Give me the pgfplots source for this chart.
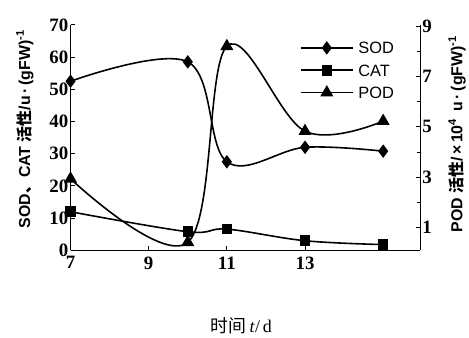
\documentclass[border=0pt]{standalone}
\usepackage{fontspec}
\setmainfont{Liberation Serif}
\newfontfamily\sans{Liberation Sans}
\newfontfamily\cjk{Noto Sans CJK SC}
\usepackage{pgfplots}
\pgfplotsset{compat=1.18}
\begin{document}
\begin{tikzpicture}
\pgfplotsset{
 every axis/.append style={
  scale only axis, width=352pt, height=227pt, xmin=7, xmax=15.95,
  tick align=inside, major tick length=4pt, minor tick length=3pt,
  every tick/.style={black, line width=1pt},
  axis line style={line width=1.4pt},
  /pgf/number format/assume math mode=true,
  ticklabel style={font=\fontsize{19}{19}\selectfont\bfseries, inner sep=1pt},
 },
}
\begin{axis}[
  axis x line*=bottom, axis y line*=left,
  ymin=0, ymax=70, ytick={0,10,...,70},
  xtick={7,9,11,13},
  xticklabel style={yshift=-5pt},
  yticklabel style={xshift=-1pt},
]
\addplot[black, line width=1.6pt, smooth, tension=0.6, mark=diamond*, mark size=5.5pt] coordinates {(7,52.5) (10,58.5) (11,27.5) (13,32) (15,30.8)};
\addplot[black, line width=1.6pt, smooth, tension=0.6, mark=square*, mark size=4.5pt] coordinates {(7,12) (10,5.8) (11,6.6) (13,3) (15,1.8)};
\end{axis}
\begin{axis}[
  axis x line=none, axis y line*=right,
  ymin=0.1, ymax=9.05, ytick={1,3,5,7,9}, minor ytick={2,4,6,8},
  yticklabel style={xshift=1pt},
  legend style={at={(rel axis cs:0.656,0.925)}, anchor=north west, draw=none, fill=none,
    font=\sans\fontsize{16.5}{16.5}\selectfont, inner sep=0pt, row sep=10.5pt, column sep=5pt,
    nodes={inner sep=0pt, text height=12pt, text depth=0pt}},
  legend cell align=left,
  legend image code/.code={\draw[mark repeat=2,mark phase=2,#1] plot coordinates {(0pt,0pt) (26pt,0pt) (52pt,0pt)};},
]
\addlegendimage{black, line width=1.6pt, mark=diamond*, mark size=5.5pt}
\addlegendentry{SOD}
\addlegendimage{black, line width=1.6pt, mark=square*, mark size=4.5pt}
\addlegendentry{CAT}
\addplot[black, line width=1.6pt, smooth, tension=0.6, mark=triangle*, mark size=6pt] coordinates {(7,2.94) (10,0.42) (11,8.2) (13,4.83) (15,5.23)};
\addlegendentry{POD}
\end{axis}
\node[rotate=90, font=\sans\bfseries\fontsize{16}{16}\selectfont] at (-46pt,122pt) {SOD{\cjk\bfseries 、}CAT {\cjk\bfseries 活性}/u\,·\,(gFW)\textsuperscript{-1}};
\node[rotate=90, font=\sans\bfseries\fontsize{16}{16}\selectfont] at (389pt,117pt) {POD {\cjk\bfseries 活性}/\,×\,10\textsuperscript{4}\, u\,·\,(gFW)\textsuperscript{-1}};
\node[font=\fontsize{18}{18}\selectfont] at (172pt,-76pt) {{\cjk 时间}\,\textit{t}/\,d};
\path[use as bounding box] (-71pt,-86pt) rectangle (398pt,252pt);
\end{tikzpicture}
\end{document}
